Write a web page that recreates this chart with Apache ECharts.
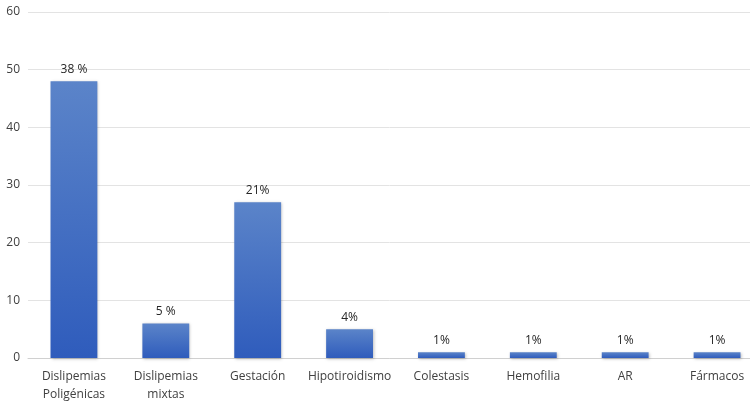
<!DOCTYPE html>
<html>
<head>
<meta charset="utf-8">
<script src="https://cdn.jsdelivr.net/npm/echarts@6/dist/echarts.min.js"></script>
<style>html,body{margin:0;padding:0;background:#fff}#c{width:750px;height:402px}</style>
</head>
<body>
<div id="c"></div>
<script>
const categories = ['Dislipemias\nPoligénicas', 'Dislipemias\nmixtas', 'Gestación', 'Hipotiroidismo', 'Colestasis', 'Hemofilia', 'AR', 'Fármacos'];
const values = [48, 6, 27, 5, 1, 1, 1, 1];
const pctLabels = ['38 %', '5 %', '21%', '4%', '1%', '1%', '1%', '1%'];
const yTicks = [0, 10, 20, 30, 40, 50, 60];

const chart = echarts.init(document.getElementById('c'));
const font = 'Open Sans';
chart.setOption({
  animation: false,
  grid: { left: 28, right: -13, top: 12, bottom: 44, containLabel: false, outerBoundsMode: 'none' },
  xAxis: {
    type: 'category',
    data: categories,
    axisLine: { lineStyle: { color: '#d0d0d0' } },
    axisTick: { show: false },
    axisLabel: { color: '#404040', fontFamily: font, fontSize: 12, lineHeight: 18, margin: 10, interval: 0 }
  },
  yAxis: {
    type: 'value',
    min: yTicks[0], max: yTicks[yTicks.length - 1], interval: 10,
    axisLine: { show: false },
    axisTick: { show: false },
    splitLine: { lineStyle: { color: '#e3e3e3' } },
    axisLabel: { color: '#404040', fontFamily: font, fontSize: 12, margin: 8, align: 'right' }
  },
  series: [{
    type: 'bar',
    data: values,
    barWidth: '51%',
    itemStyle: {
      color: new echarts.graphic.LinearGradient(0, 0, 0, 1, [
        { offset: 0, color: '#5b84c9' },
        { offset: 1, color: '#2f5cbc' }
      ]),
      shadowColor: 'rgba(0,0,0,0.25)', shadowBlur: 3, shadowOffsetX: 1, shadowOffsetY: 1
    },
    label: {
      show: true, position: 'top', distance: 6,
      color: '#262626', fontFamily: font, fontSize: 12,
      formatter: p => pctLabels[p.dataIndex]
    }
  }]
});
</script>
</body>
</html>
